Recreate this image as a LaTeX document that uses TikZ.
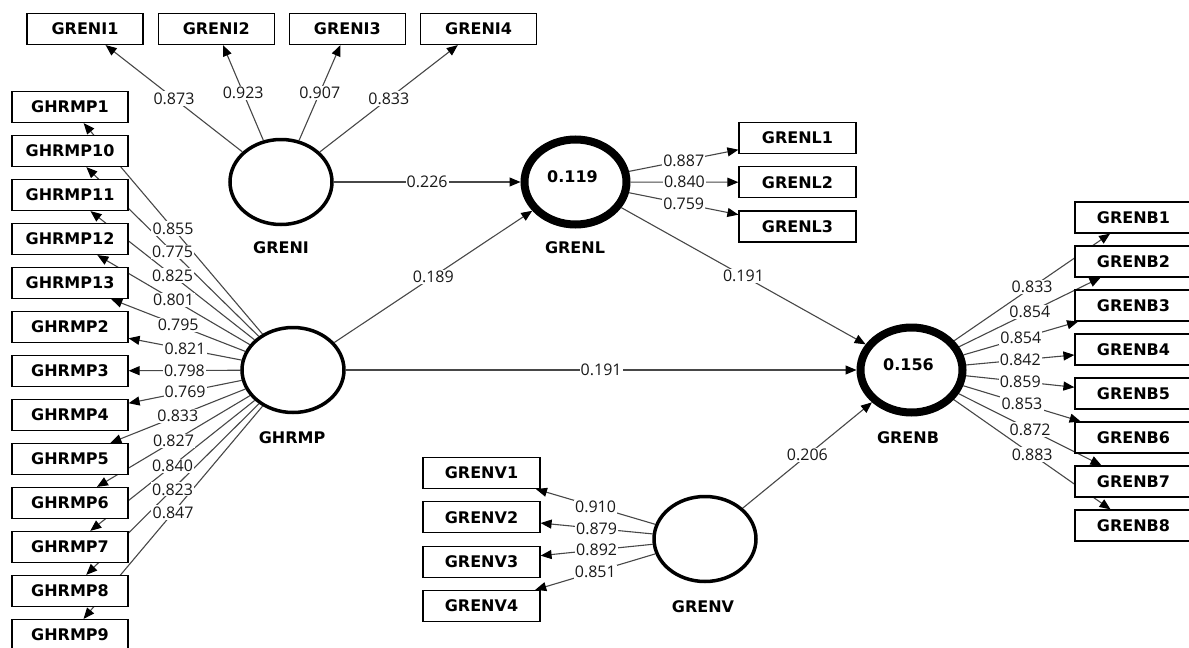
\documentclass[tikz,border=0pt]{standalone}
\usepackage{fontspec}
\setmainfont{DejaVu Sans}
\newfontfamily\numfont{Open Sans}
\usetikzlibrary{shapes.geometric,arrows.meta,backgrounds}
\begin{document}
\begin{tikzpicture}[x=1pt,y=-1pt,
  ind/.style={draw=black, line width=1.2pt, fill=white, minimum width=116pt,
    minimum height=31pt, inner sep=0pt, font=\fontsize{16}{18}\selectfont\bfseries},
  lv/.style={ellipse, draw=black, line width=3.5pt, fill=white,
    minimum width=102pt, minimum height=85pt, inner sep=0pt},
  endo/.style={lv, line width=8pt},
  lvname/.style={font=\fontsize{16}{18}\selectfont\bfseries},
  rsq/.style={font=\fontsize{16}{18}\selectfont\bfseries},
  conn/.style={draw=black!72, line width=1.1pt, -{Triangle[length=11pt,width=9pt,color=black]}},
  val/.style={fill=white, inner sep=1.2pt, font=\fontsize{16}{18}\numfont, text=black!90},
]
\useasboundingbox (0,0) rectangle (1189,648);

% latent variables
\node[lv]   (GRENI) at (281,182) {};
\node[endo] (GRENL) at (575.5,182) {};
\node[lv]   (GHRMP) at (293,370) {};
\node[endo] (GRENB) at (911.5,370) {};
\node[lv]   (GRENV) at (705,539) {};

\node[lvname] (GRENIname) at (281,248) {GRENI};
\node[lvname] (GRENLname) at (575,248) {GRENL};
\node[lvname] (GHRMPname) at (292,438) {GHRMP};
\node[lvname] (GRENBname) at (908,438) {GRENB};
\node[lvname] (GRENVname) at (703,607) {GRENV};

\node[rsq] (GRENLr) at (572.5,177) {0.119};
\node[rsq] (GRENBr) at (908.5,365) {0.156};

% indicators
\foreach \n [count=\i from 0] in {1,2,3,4}
  \node[ind] (GRENI\n) at (85+131.2*\i,29) {GRENI\n};
\foreach \n [count=\i from 0] in {1,10,11,12,13,2,3,4,5,6,7,8,9}
  \node[ind] (GHRMP\n) at (70,107+44*\i) {GHRMP\n};
\foreach \n [count=\i from 0] in {1,2,3}
  \node[ind, minimum width=117pt] (GRENL\n) at (797.5,138+44.25*\i) {GRENL\n};
\foreach \n [count=\i from 0] in {1,...,8}
  \node[ind, minimum width=117pt] (GRENB\n) at (1133.5,217.5+44*\i) {GRENB\n};
\foreach \n [count=\i from 0] in {1,2,3,4}
  \node[ind, minimum width=117pt] (GRENV\n) at (481.5,473+44.3*\i) {GRENV\n};

\def\links{GRENI/GRENI1/0.873, GRENI/GRENI2/0.923, GRENI/GRENI3/0.907, GRENI/GRENI4/0.833,
  GHRMP/GHRMP1/0.855, GHRMP/GHRMP10/0.775, GHRMP/GHRMP11/0.825, GHRMP/GHRMP12/0.801,
  GHRMP/GHRMP13/0.795, GHRMP/GHRMP2/0.821, GHRMP/GHRMP3/0.798, GHRMP/GHRMP4/0.769,
  GHRMP/GHRMP5/0.833, GHRMP/GHRMP6/0.827, GHRMP/GHRMP7/0.840, GHRMP/GHRMP8/0.823,
  GHRMP/GHRMP9/0.847,
  GRENL/GRENL1/0.887, GRENL/GRENL2/0.840, GRENL/GRENL3/0.759,
  GRENB/GRENB1/0.833, GRENB/GRENB2/0.854, GRENB/GRENB3/0.854, GRENB/GRENB4/0.842,
  GRENB/GRENB5/0.859, GRENB/GRENB6/0.853, GRENB/GRENB7/0.872, GRENB/GRENB8/0.883,
  GRENV/GRENV1/0.910, GRENV/GRENV2/0.879, GRENV/GRENV3/0.892, GRENV/GRENV4/0.851,
  GRENI/GRENL/0.226, GHRMP/GRENL/0.189, GHRMP/GRENB/0.191, GRENL/GRENB/0.191,
  GRENV/GRENB/0.206}

\begin{pgfonlayer}{background}
  \foreach \s/\t/\v in \links
    \draw[conn] (\s) -- (\t);
\end{pgfonlayer}
\foreach \s/\t/\v in \links
  \path (\s) -- (\t) node[val, midway] {\v};
\end{tikzpicture}
\end{document}
